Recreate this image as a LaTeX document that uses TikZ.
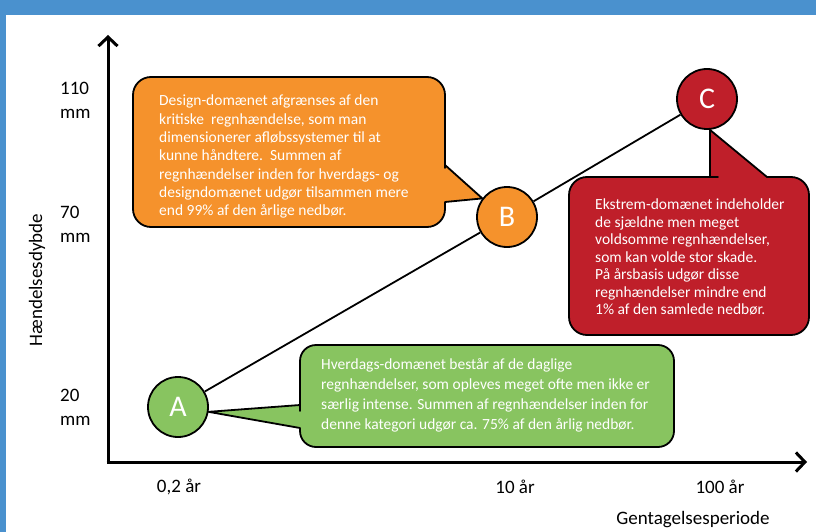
\documentclass[tikz,border=0pt]{standalone}
\usepackage{fontspec}
\setmainfont{Carlito}
\usetikzlibrary{arrows.meta,positioning,calc,backgrounds}

\definecolor{frameblue}{HTML}{4A91CE}
\definecolor{hverdag}{HTML}{88C460}
\definecolor{design}{HTML}{F5922C}
\definecolor{ekstrem}{HTML}{BF1F2A}

\begin{document}
\begin{tikzpicture}[x=1pt,y=-1pt,
  axis/.style={line width=3pt,-{Straight Barb[length=9pt,width=19pt]}},
  dot/.style={circle,draw,line width=1.8pt,minimum size=60pt,inner sep=0pt,text=white,font=\fontsize{30}{30}\selectfont},
  callout/.style={draw,line width=1.8pt,line join=round},
  boxtext/.style={text=white,align=left,inner sep=0pt},
  ticklbl/.style={font=\fontsize{19}{24}\selectfont,align=left,inner sep=0pt}]
  \useasboundingbox (0,0) rectangle (816,532);
  % frame
  \fill[frameblue] (0,0) rectangle (816,15);
  \fill[frameblue] (0,0) rectangle (6,532);

  % axes
  \coordinate (origo) at (108,462);
  \coordinate (xend) at (807,462);
  \coordinate (yend) at (108,35);
  \draw[axis] ([xshift=-1.5pt]origo) -- (xend);
  \draw[axis] (origo) -- (yend);

  \node[ticklbl,anchor=west] (y110) at (60,100) {110\\mm};
  \node[ticklbl,anchor=west] (y70) at (60,224) {70\\mm};
  \node[ticklbl,anchor=west] (y20) at (60,407) {20\\mm};
  \node[ticklbl,rotate=90] (ylab) at (37,280) {Hændelsesdybde};
  \node[ticklbl] (x02) at (179,487) {0,2 år};
  \node[ticklbl] (x10) at (515,487) {10 år};
  \node[ticklbl] (x100) at (720,487) {100 år};
  \node[ticklbl] (xlab) at (693,520) {Gentagelsesperiode};

  % domains
  \node[dot,fill=hverdag] (A) at (178,407) {A};
  \node[dot,fill=design] (B) at (507,217) {B};
  \node[dot,fill=ekstrem] (C) at (707,99) {C};

  \begin{scope}[on background layer]
  \path[draw,line width=1.8pt] (A) edge (B) (B) edge (C);

  % design callout
  \coordinate (designnw) at (133,77);
  \draw[callout,fill=design] (445,150) -- (445,165) -- (B.143) -- (445,202) -- (445,203)
    [rounded corners=18pt] -- (445,227) -- (133,227) -- (133,77) -- (445,77) -- cycle;
  \node[boxtext,font=\fontsize{15.5}{18.3}\selectfont,below right=18pt and 26pt of designnw] (designtxt)
    {Design-domænet afgrænses af den\\
     kritiske\ \ regnhændelse, som man\\
     dimensionerer afløbssystemer til at\\
     kunne håndtere.\ \ Summen af\\
     regnhændelser inden for hverdags- og\\
     designdomænet udgør tilsammen mere\\
     end 99\% af den årlige nedbør.};

  % ekstrem callout
  \coordinate (ekstremnw) at (569,177);
  \coordinate (ektip) at ($(C.south)+(3,0)$);
  \draw[callout,fill=ekstrem] (700,177) -- (ektip |- ekstremnw) -- (ektip) -- (767,177) -- (768,177)
    [rounded corners=18pt] -- (809,177) -- (809,335) -- (569,335) -- (569,177) -- cycle;
  \node[boxtext,font=\fontsize{15.5}{17.5}\selectfont,below right=22pt and 26pt of ekstremnw] (ekstremtxt)
    {Ekstrem-domænet indeholder\\
     de sjældne men meget\\
     voldsomme regnhændelser,\\
     som kan volde stor skade.\\
     På årsbasis udgør disse\\
     regnhændelser mindre end\\
     1\% af den samlede nedbør.};

  % hverdag callout
  \coordinate (hverdagnw) at (300,345);
  \draw[callout,fill=hverdag] (300,395) -- (300,405) -- (A.-9) -- (300,428) -- (300,429)
    [rounded corners=16pt] -- (300,447) -- (674,447) -- (674,345) -- (300,345) -- cycle;
  \node[boxtext,font=\fontsize{15.5}{20}\selectfont,below right=13pt and 21pt of hverdagnw] (hverdagtxt)
    {Hverdags-domænet består af de daglige\\
     regnhændelser, som opleves meget ofte men ikke er\\
     særlig intense. Summen af regnhændelser inden for\\
     denne kategori udgør ca. 75\% af den årlig nedbør.};
  \end{scope}
\end{tikzpicture}
\end{document}
